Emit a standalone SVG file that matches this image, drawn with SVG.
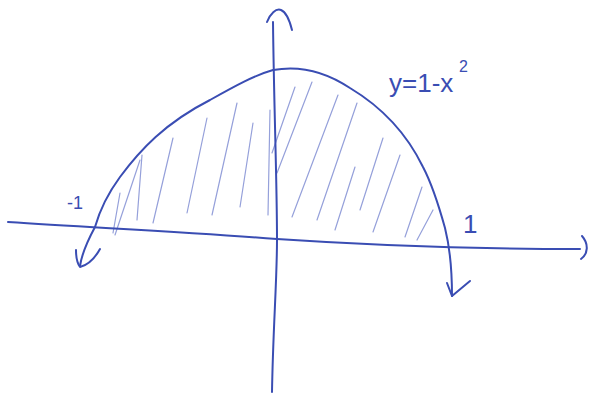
<svg xmlns="http://www.w3.org/2000/svg" width="593" height="398" viewBox="0 0 593 398">
<style>
.pen{fill:none;stroke:#3a4db3;stroke-width:2;stroke-linecap:round;stroke-linejoin:round}
.hatch{fill:none;stroke:#95a0da;stroke-width:1.2;stroke-linecap:round}
.lbl{fill:#3a4db3;font-family:"Liberation Sans",Arial,sans-serif}
</style>
<rect width="593" height="398" fill="#ffffff"/>
<g id="hatching">
<path class="hatch" d="M120 193 L113 233 M140 160 L115 235 M142 155 L137 220 M173 138 L153 223 M207 118 L187 213 M237 103 L212 215 M253 123 L240 207 M270 110 L268 215 M295 87 L272 153 M312 82 L277 173 M338 95 L292 217 M357 103 L317 220 M383 138 L360 210 M355 167 L335 230 M400 155 L373 232 M422 187 L405 237 M433 210 L417 240"/>
</g>
<g id="connectors">
<path id="x-axis" class="pen" d="M8 222 C100 228 190 232 277 239 C380 246 480 249 580 249"/>
<path id="x-arrow" class="pen" d="M582 236 C589 244 588 254 581 259"/>
<path id="y-axis" class="pen" d="M272 392 C273 330 277 280 277 240 C277 180 274 110 273 22"/>
<path id="y-arrow" class="pen" d="M267 22 C270 14 276 8 281 10 C286 12 290 22 292 30"/>
</g>
<g id="curve">
<path class="pen" d="M80 266 C82 252 88 240 95 227 C99 213 106 196 120 177 C140 150 165 123 210 100 C235 86 255 75 273 70 C295 66 320 68 350 88 C380 106 405 130 423 167 C433 186 440 210 445 228 C450 248 452 270 452 296"/>
<path class="pen" d="M76 250 C76 258 77 263 80 267 C88 265 95 258 100 249"/>
<path class="pen" d="M447 283 L452 296 L470 281"/>
</g>
<g id="labels">
<text class="lbl" x="389" y="92" font-size="26">y=1-x</text>
<text class="lbl" x="459" y="72" font-size="16">2</text>
<text class="lbl" x="67" y="209" font-size="18">-1</text>
<text class="lbl" x="463" y="233" font-size="26">1</text>
</g>
</svg>
